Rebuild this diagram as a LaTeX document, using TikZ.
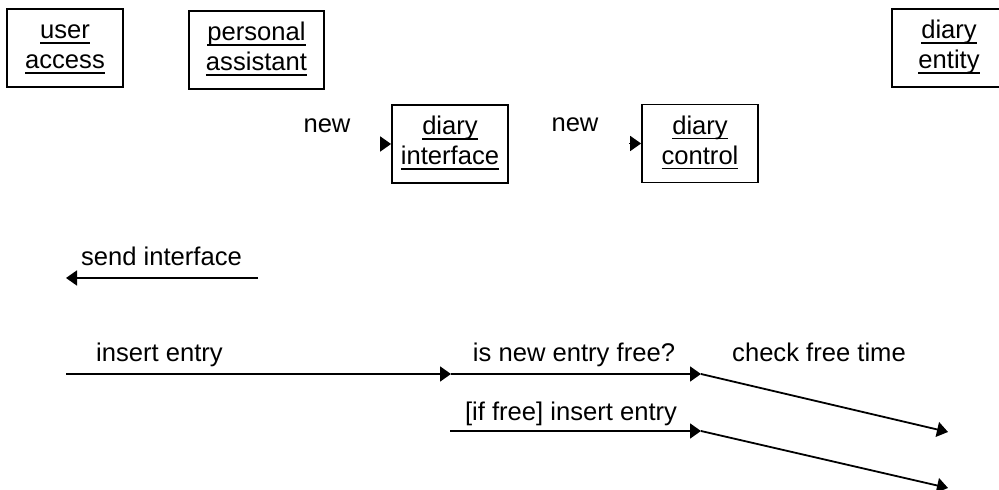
\documentclass[tikz,border=0pt]{standalone}
\usepackage{fontspec}
\setmainfont{Liberation Sans}
\usetikzlibrary{arrows.meta}
\newcommand\myul[1]{\setbox0\hbox{#1}\rlap{\rule[-2.4pt]{\wd0}{0.85pt}}\box0}
\begin{document}
\begin{tikzpicture}[x=0.5pt,y=-0.5pt,
  font=\fontsize{12.8}{15}\selectfont,
  box/.style={draw, line width=0.9pt, minimum width=58pt, minimum height=39pt, inner sep=0pt, align=center},
  lbl/.style={anchor=base, inner sep=0pt},
  arr/.style={line width=0.9pt, -{Triangle[length=5.5pt,width=7.5pt]}}]
\useasboundingbox (0,0) rectangle (999,490);
% objects
\node[box] (ua) at (65,48) {\strut\myul{user}\\\strut\myul{access}};
\node[box, minimum width=67.5pt] (pa) at (256.5,50) {\strut\myul{personal}\\\strut\myul{assistant}};
\node[box] (di) at (450,144) {\strut\myul{diary}\\\strut\myul{interface}};
\node[box] (dc) at (700,143.5) {\strut\myul{diary}\\\strut\myul{control}};
\node[box, minimum width=57pt] (de) at (949,48) {\strut\myul{diary}\\\strut\myul{entity}};
% labels
\node[lbl] (new1) at (327,133) {new};
\node[lbl] (new2) at (575,132) {new};
\node[lbl] (lsend) at (161.5,266) {send interface};
\node[lbl] (lins) at (159.5,362) {insert entry};
\node[lbl] (lfree) at (574,362) {is new entry free?};
\node[lbl] (lcheck) at (819,362) {check free time};
\node[lbl] (lif) at (571,421) {[if free] insert entry};
% coordinates
\coordinate (s1) at (381,144);
\coordinate (s2) at (629,143.5);
\coordinate (a1) at (258,278);
\coordinate (a2) at (66,278);
\coordinate (b0) at (66,374);
\coordinate (b1) at (451,374);
\coordinate (b2) at (701,374);
\coordinate (b3) at (948,432);
\coordinate (c0) at (450,431);
\coordinate (c1) at (701,431);
\coordinate (c2) at (948,488);
% messages
\draw[arr] (s1) -- (di.west);
\draw[arr] (s2) -- (dc.west);
\draw[arr] (a1) -- (a2);
\draw[arr] (b0) -- (b1);
\draw[arr] (b1) -- (b2);
\draw[arr] (b2) -- (b3);
\draw[arr] (c0) -- (c1);
\draw[arr] (c1) -- (c2);
\end{tikzpicture}
\end{document}
